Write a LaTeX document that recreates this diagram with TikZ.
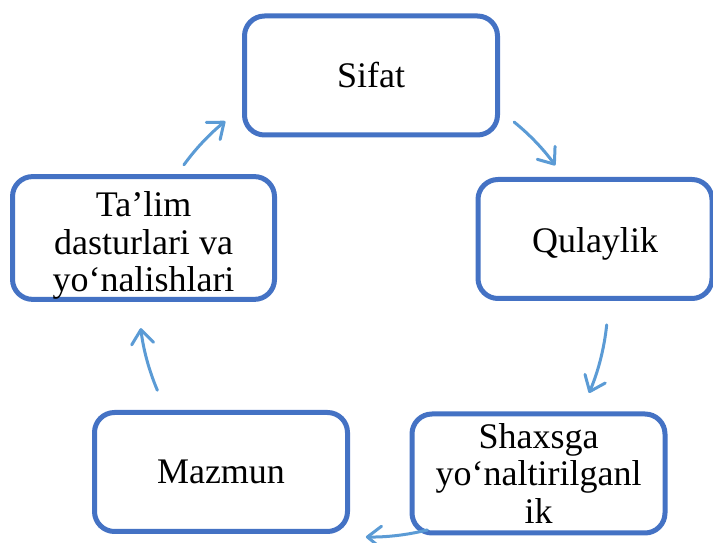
\documentclass[tikz,border=0pt]{standalone}
\usepackage{fontspec}
\setmainfont{Liberation Serif}
\usepackage{tikz}
\usetikzlibrary{arrows.meta}
\definecolor{boxblue}{RGB}{68,114,196}
\definecolor{arrblue}{RGB}{91,155,213}

\begin{document}
\begin{tikzpicture}[x=1pt, y=1pt,
  box/.style={draw=boxblue, line width=5pt, rounded corners=20pt, fill=white,
    minimum width=253pt, minimum height=119pt, align=center, inner sep=0pt,
    font=\fontsize{36}{37.5}\selectfont},
  cyc/.style={draw=arrblue, line width=3pt, line cap=round, line join=round,
    -{Straight Barb[length=14pt, width=22pt, line cap=round, line join=round]}}]

\useasboundingbox (0,0) rectangle (713,543);

\coordinate (hub) at (370,243);

\node[box] (N1) at (371,467.5) {Sifat};
\node[box, minimum width=234pt] (N2) at (595,304) {\rule{0pt}{35pt}Qulaylik};
\node[box] (N3) at (538.5,69.5) {Shaxsga\\yo‘naltirilganl\\ik};
\node[box] (N4) at (221,71) {Mazmun};
\node[box, minimum width=262pt, minimum height=115pt] (N5) at (143.5,305) {\rule{0pt}{40pt}Ta’lim\\dasturlari va\\yo‘nalishlari};

\path (hub) ++(144:230) coordinate (A1);
\path (hub) ++(51:229) coordinate (A2);
\path (hub) ++(-6:238) coordinate (A3);
\path (hub) ++(-76:237) coordinate (A4);
\path (hub) ++(203:231) coordinate (A5);

\draw[cyc] (A1) arc[start angle=144, end angle=129, radius=230];
\draw[cyc] (A2) arc[start angle=51, end angle=36, radius=229];
\draw[cyc] (A3) arc[start angle=-6, end angle=-23, radius=238];
\draw[cyc] (A4) arc[start angle=-76, end angle=-91, radius=237];
\draw[cyc] (A5) arc[start angle=203, end angle=187, radius=231];
\end{tikzpicture}
\end{document}
